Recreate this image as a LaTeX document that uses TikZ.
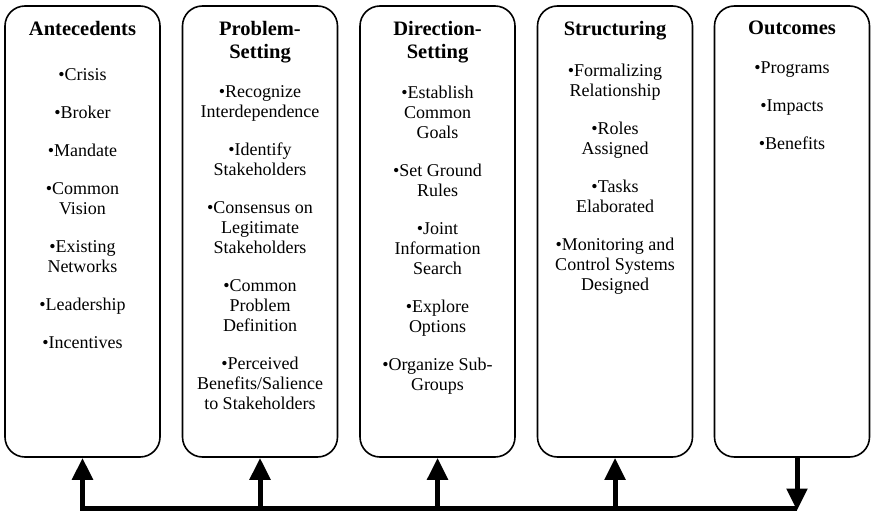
\documentclass[tikz,border=0pt]{standalone}
\usepackage{fontspec}
\setmainfont{LiberationSerif}[Extension=.ttf, UprightFont=*-Regular, BoldFont=*-Bold, ItalicFont=*-Italic, BoldItalicFont=*-BoldItalic]
\usetikzlibrary{positioning,arrows.meta}

\newcommand{\bul}{\textbullet}

\begin{document}
\begin{tikzpicture}[x=1pt,y=-1pt,
  stage/.style={draw, line width=1.6pt, rounded corners=20pt, minimum width=155pt, minimum height=451pt, inner sep=0pt},
  head/.style={font=\bfseries\fontsize{20.5}{23}\selectfont, align=center, inner sep=0pt},
  items/.style={font=\fontsize{18}{20}\selectfont, align=center, inner sep=0pt},
  feed/.style={line width=5pt, line join=miter, -{Triangle[length=22pt,width=20pt]}}]
\useasboundingbox (0,0) rectangle (873,516);
% the five stages
\node[stage] (ante) at (82.5,231.5) {};
\node[stage] (prob) at (260,231.5) {};
\node[stage] (dir) at (437.5,231.5) {};
\node[stage] (struct) at (615,231.5) {};
\node[stage] (outc) at (792,231.5) {};
\foreach \b/\t in {ante/Antecedents, prob/Problem-\\Setting, dir/Direction-\\Setting, struct/Structuring, outc/Outcomes}
  \node[head, below=16pt of \b.north] (\b-head) {\t};
\node[items, below=32pt of ante-head] (ante-list) {\bul Crisis\\[18pt]\bul Broker\\[18pt]\bul Mandate\\[18pt]\bul Common\\Vision\\[18pt]\bul Existing\\Networks\\[18pt]\bul Leadership\\[18pt]\bul Incentives};
\node[items, below=22pt of prob-head] (prob-list) {\bul Recognize\\Interdependence\\[18pt]\bul Identify\\Stakeholders\\[18pt]\bul Consensus on\\Legitimate\\Stakeholders\\[18pt]\bul Common\\Problem\\Definition\\[18pt]\bul Perceived\\Benefits/Salience\\to Stakeholders};
\node[items, below=22pt of dir-head] (dir-list) {\bul Establish\\Common\\Goals\\[18pt]\bul Set Ground\\Rules\\[18pt]\bul Joint\\Information\\Search\\[18pt]\bul Explore\\Options\\[18pt]\bul Organize Sub-\\Groups};
\node[items, below=23pt of struct-head] (struct-list) {\bul Formalizing\\Relationship\\[18pt]\bul Roles\\Assigned\\[18pt]\bul Tasks\\Elaborated\\[18pt]\bul Monitoring and\\Control Systems\\Designed};
\node[items, below=26pt of outc-head] (outc-list) {\bul Programs\\[18pt]\bul Impacts\\[18pt]\bul Benefits};
% feedback bus along the bottom
\coordinate (bus) at (0,508);
\coordinate (out) at ([xshift=5pt]outc.south);
\draw[feed] (out |- bus) -- (ante.south |- bus) -- (ante.south);
\foreach \b in {prob,dir,struct}
  \draw[feed] (\b.south |- bus) -- (\b.south);
\draw[feed] (out) -- ([yshift=-2.5pt]out |- bus);
\end{tikzpicture}
\end{document}
